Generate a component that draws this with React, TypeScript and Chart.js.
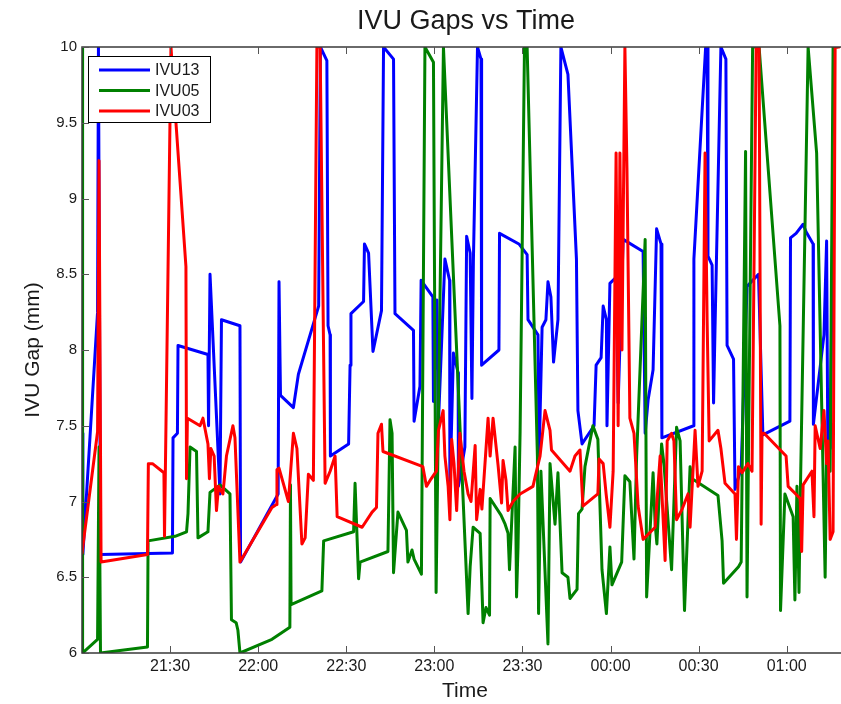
import React, { useEffect, useRef } from 'react';
import { Chart, registerables } from 'chart.js';

Chart.register(...registerables);

// Sample times are minutes after 21:00; gaps are in millimetres.
const ivu13Time = [
  0.0, 0.3, 5.3, 5.6, 6.3, 30.8, 31.0, 32.5, 32.7, 42.9,
  43.1, 43.6, 47.0, 47.5, 53.8, 54.0, 66.8, 67.1, 67.6, 72.0,
  73.7, 80.6, 81.2, 83.4, 83.8, 84.5, 84.6, 90.8, 91.3, 91.6,
  95.9, 96.2, 97.6, 99.1, 102.0, 102.7, 106.1, 106.6, 112.9, 113.1,
  115.1, 115.5, 119.5, 119.7, 120.9, 121.3, 123.6, 125.2, 125.3, 126.5,
  128.1, 128.2, 130.4, 131.0, 132.2, 132.8, 133.3, 134.7, 135.9, 136.1,
  142.0, 142.2, 148.8, 151.6, 151.9, 155.3, 155.7, 156.7, 158.0, 158.7,
  159.7, 160.6, 162.1, 163.1, 165.5, 168.4, 168.9, 170.3, 174.4, 175.1,
  176.8, 177.5, 178.6, 178.8, 179.8, 181.9, 182.6, 184.3, 191.1, 191.8,
  192.8, 194.5, 195.7, 197.2, 197.5, 208.3, 208.4, 212.4, 212.9, 213.2,
  214.6, 215.1, 215.6, 217.6, 219.3, 219.7, 221.9, 222.4, 224.5, 226.5,
  230.4, 231.9, 241.1, 241.3, 243.2, 245.6, 246.6, 249.0, 249.1, 252.7,
  253.6, 254.0, 254.8, 255.6,
];
const ivu13Gap = [
  7.45, 6.65, 8.25, 10, 6.65, 6.66, 7.42, 7.45, 8.03, 7.97,
  7.5, 8.5, 7.05, 8.2, 8.16, 6.6, 7.05, 8.45, 7.7, 7.62,
  7.84, 8.29, 10, 9.91, 8.16, 8.1, 7.3, 7.38, 7.9, 8.24,
  8.32, 8.7, 8.64, 7.99, 8.26, 10, 9.92, 8.24, 8.13, 7.53,
  7.76, 8.46, 8.35, 7.66, 8.33, 7.47, 8.6, 8.46, 7.07, 7.98,
  7.85, 7.1, 7.36, 8.75, 8.64, 7.68, 8.59, 10, 9.92, 7.9,
  8.0, 8.77, 8.7, 8.63, 8.2, 8.1, 7.3, 8.15, 8.2, 8.45,
  8.35, 7.92, 8.2, 10, 9.82, 8.6, 7.6, 7.38, 7.5, 7.9,
  7.95, 8.29, 8.2, 7.5, 8.44, 8.48, 7.65, 8.73, 8.65, 7.45,
  7.67, 7.87, 8.8, 8.7, 7.42, 7.5, 8.6, 10, 10, 8.62,
  8.56, 7.65, 8.15, 10, 9.92, 8.03, 7.94, 7.08, 7.22, 8.42,
  8.5, 7.44, 7.53, 8.74, 8.77, 8.83, 8.78, 8.7, 7.51, 8.1,
  8.72, 7.4, 7.35, 8.7,
];

const ivu05Time = [
  0.0, 0.2, 5.3, 5.8, 6.3, 22.3, 22.5, 31.7, 35.6, 36.1,
  36.8, 39.0, 39.5, 42.9, 43.6, 47.0, 50.4, 50.9, 52.5, 53.1,
  53.8, 64.7, 70.8, 71.0, 71.2, 81.7, 82.3, 92.5, 93.0, 94.2,
  94.7, 104.2, 104.9, 105.6, 106.1, 107.6, 110.5, 111.0, 112.4, 113.1,
  115.6, 116.8, 119.7, 120.6, 121.3, 123.1, 131.5, 132.2, 133.2, 135.6,
  136.6, 137.6, 138.8, 139.0, 142.7, 144.1, 145.1, 145.6, 147.5, 148.0,
  148.5, 149.2, 150.7, 151.6, 155.1, 155.5, 156.3, 158.7, 159.4, 161.1,
  162.1, 163.5, 165.5, 166.2, 168.6, 169.1, 170.3, 171.3, 174.0, 175.7,
  177.1, 178.6, 179.8, 180.5, 183.8, 184.9, 186.6, 188.0, 188.9, 191.8,
  192.3, 194.5, 195.2, 195.8, 197.4, 198.2, 200.8, 202.5, 203.7, 205.2,
  207.1, 207.8, 216.6, 218.0, 218.5, 223.6, 224.5, 226.0, 226.5, 228.4,
  230.6, 237.7, 237.9, 239.4, 242.2, 242.8, 243.5, 244.2, 244.7, 247.3,
  250.2, 253.1, 253.6, 254.8, 255.8, 257.2,
];
const ivu05Gap = [
  10, 6.0, 6.09, 7.36, 6.0, 6.04, 6.74, 6.77, 6.8, 6.92,
  7.36, 7.33, 6.76, 6.8, 7.06, 7.11, 7.05, 6.22, 6.2, 6.15,
  6.0, 6.09, 6.17, 7.11, 6.32, 6.41, 6.74, 6.8, 7.12, 6.49,
  6.6, 6.67, 7.54, 7.45, 6.53, 6.93, 6.81, 6.6, 6.68, 6.62,
  6.52, 10, 9.9, 6.4, 7.45, 10, 6.26, 6.57, 6.83, 6.79,
  6.2, 6.3, 6.25, 7.02, 6.91, 6.85, 6.79, 6.55, 7.36, 6.37,
  6.7, 7.45, 10, 10, 7.3, 6.26, 7.2, 6.06, 7.25, 6.85,
  7.19, 6.53, 6.5, 6.36, 6.42, 6.92, 6.95, 7.23, 7.5, 7.41,
  6.55, 6.26, 6.7, 6.45, 6.6, 7.17, 7.13, 6.62, 7.3, 8.73,
  6.37, 7.19, 6.85, 6.72, 7.38, 7.25, 6.55, 7.49, 7.4, 6.28,
  7.23, 7.15, 7.04, 6.74, 6.46, 6.57, 6.6, 9.31, 6.37, 10,
  10, 8.16, 6.28, 7.05, 6.9, 6.35, 7.1, 6.4, 7.1, 10,
  9.3, 6.5, 7.3, 7.2, 10, 10,
];

const ivu03Time = [
  0.0, 5.3, 5.8, 6.5, 22.3, 22.6, 24.0, 27.9, 28.1, 30.3,
  32.0, 35.4, 35.6, 35.9, 40.2, 41.2, 42.9, 43.4, 43.9, 45.0,
  45.8, 46.5, 48.0, 49.2, 51.4, 52.1, 53.8, 64.7, 66.2, 66.4,
  67.1, 70.3, 72.0, 73.2, 74.9, 76.0, 77.1, 78.8, 80.0, 81.1,
  82.8, 84.5, 86.2, 86.9, 95.4, 98.8, 100.3, 100.8, 102.0, 102.5,
  116.1, 117.3, 118.9, 120.7, 121.4, 123.0, 123.6, 124.7, 125.3, 125.9,
  126.7, 127.6, 128.7, 130.1, 131.5, 132.5, 133.9, 134.4, 135.6, 136.2,
  138.3, 139.0, 140.0, 141.7, 142.9, 143.4, 144.4, 145.1, 146.8, 149.2,
  153.6, 154.3, 156.0, 157.7, 159.4, 159.9, 166.2, 167.9, 169.6, 170.6,
  175.7, 176.1, 177.5, 178.5, 179.8, 180.9, 181.9, 182.6, 183.2, 183.9,
  184.9, 185.6, 186.6, 188.0, 189.4, 191.1, 195.2, 196.9, 198.6, 199.3,
  200.8, 201.6, 202.5, 204.4, 206.4, 207.1, 208.8, 209.8, 211.2, 212.2,
  212.9, 213.6, 216.6, 217.6, 219.0, 222.4, 222.9, 223.6, 224.8, 226.8,
  228.2, 229.6, 230.6, 231.3, 231.6, 232.3, 239.8, 240.5, 244.6, 245.1,
  245.6, 248.6, 249.3, 249.7, 251.4, 252.7, 253.6, 254.1, 254.8, 255.8,
  256.5, 257.8,
];
const ivu03Gap = [
  6.66, 7.46, 9.25, 6.6, 6.65, 7.25, 7.25, 7.19, 6.77, 10,
  9.5, 8.55, 7.15, 7.55, 7.5, 7.55, 7.38, 7.15, 7.35, 7.3,
  6.94, 7.1, 7.05, 7.3, 7.5, 7.42, 6.6, 6.96, 6.98, 7.21,
  7.22, 7.0, 7.45, 7.35, 6.72, 6.76, 7.18, 7.14, 10, 10,
  7.12, 7.2, 7.3, 6.9, 6.83, 6.93, 6.96, 7.45, 7.51, 7.33,
  7.23, 7.1, 7.15, 7.2, 7.47, 7.6, 7.3, 7.1, 6.88, 7.41,
  7.25, 6.94, 7.45, 7.2, 7.05, 7.0, 7.37, 6.88, 7.08, 6.95,
  7.55, 7.3, 7.55, 7.24, 6.99, 7.27, 7.14, 6.94, 7.0, 7.05,
  7.1, 7.16, 7.3, 7.6, 7.47, 7.34, 7.2, 7.3, 7.34, 6.97,
  7.05, 7.28, 7.25, 7.05, 6.83, 7.2, 9.3, 7.5, 9.3, 8.0,
  10, 9.2, 7.55, 7.45, 6.97, 6.75, 6.83, 7.3, 6.61, 7.4,
  7.45, 7.4, 6.88, 6.95, 7.05, 6.83, 7.47, 7.1, 7.2, 9.3,
  8.2, 7.4, 7.47, 7.35, 7.12, 7.05, 6.75, 7.23, 7.19, 7.25,
  7.2, 10, 10, 6.85, 7.45, 7.45, 7.3, 7.1, 7.02, 6.67,
  7.11, 7.2, 6.9, 7.5, 7.35, 7.6, 7.25, 7.4, 6.75, 6.8,
  10, 10,
];

const timeTicks = [30, 60, 90, 120, 150, 180, 210, 240];
const timeTickLabels = ['21:30', '22:00', '22:30', '23:00', '23:30', '00:00', '00:30', '01:00'];
const gapTicks = [6, 6.5, 7, 7.5, 8, 8.5, 9, 9.5, 10];
const gapTickLabels = ['6', '6.5', '7', '7.5', '8', '8.5', '9', '9.5', '10'];

const seriesNames = ['IVU13', 'IVU05', 'IVU03'];
const seriesColors = ['#0000ff', '#008000', '#ff0000'];
const seriesTimes = [ivu13Time, ivu05Time, ivu03Time];
const seriesGaps = [ivu13Gap, ivu05Gap, ivu03Gap];

const chartTitle = 'IVU Gaps vs Time';
const xTitle = 'Time';
const yTitle = 'IVU Gap (mm)';

const FONT = '"Liberation Sans", Arial, Helvetica, sans-serif';
const WIDTH = 841;
const HEIGHT = 704;
const AREA_LEFT = 82;
const AREA_TOP = 47;
const AREA_BOTTOM = 653;
const TIME_MAX = 258.5;
const TEXT = '#1a1a1a';

// Box frame, inward tick marks, axis titles and the boxed legend.
const framePlugin = {
  id: 'axesFrame',
  afterDatasetsDraw(chart: any) {
    const { ctx, chartArea: a, scales } = chart;
    const x = scales.x;
    const y = scales.y;
    ctx.save();
    ctx.strokeStyle = '#3a3a3a';
    ctx.lineWidth = 1.5;
    ctx.beginPath();
    ctx.moveTo(a.right + 2, a.top);
    ctx.lineTo(a.left, a.top);
    ctx.lineTo(a.left, a.bottom);
    ctx.lineTo(a.right + 2, a.bottom);
    ctx.stroke();

    ctx.strokeStyle = '#555';
    ctx.lineWidth = 1;
    ctx.beginPath();
    timeTicks.forEach((t) => {
      const px = Math.round(x.getPixelForValue(t)) + 0.5;
      ctx.moveTo(px, a.bottom);
      ctx.lineTo(px, a.bottom - 7);
      ctx.moveTo(px, a.top);
      ctx.lineTo(px, a.top + 7);
    });
    gapTicks.forEach((g) => {
      const py = Math.round(y.getPixelForValue(g)) + 0.5;
      ctx.moveTo(a.left, py);
      ctx.lineTo(a.left + 7, py);
    });
    ctx.stroke();
    ctx.restore();
  },
  afterDraw(chart: any) {
    const { ctx } = chart;
    ctx.save();
    ctx.fillStyle = TEXT;
    ctx.textAlign = 'center';
    ctx.textBaseline = 'middle';

    ctx.font = `27px ${FONT}`;
    ctx.fillText(chartTitle, 466, 22);

    ctx.font = `21px ${FONT}`;
    ctx.fillText(xTitle, 465, 691);

    ctx.save();
    ctx.translate(33, 350);
    ctx.rotate(-Math.PI / 2);
    ctx.fillText(yTitle, 0, 0);
    ctx.restore();

    // legend
    const bx = 88.5;
    const by = 56.5;
    const bw = 122;
    const bh = 66;
    ctx.fillStyle = '#ffffff';
    ctx.fillRect(bx, by, bw, bh);
    ctx.strokeStyle = '#000';
    ctx.lineWidth = 1;
    ctx.strokeRect(bx, by, bw, bh);
    ctx.font = `16px ${FONT}`;
    ctx.textAlign = 'left';
    seriesNames.forEach((name, i) => {
      const ly = 70 + i * 20.5;
      ctx.strokeStyle = seriesColors[i];
      ctx.lineWidth = 3;
      ctx.beginPath();
      ctx.moveTo(99, ly);
      ctx.lineTo(150, ly);
      ctx.stroke();
      ctx.fillStyle = TEXT;
      ctx.fillText(name, 155, ly + 1);
    });
    ctx.restore();
  },
};

export default function App() {
  const canvasRef = useRef<HTMLCanvasElement>(null);

  useEffect(() => {
    const canvas = canvasRef.current;
    if (!canvas) return;
    const datasets = seriesNames.map((name, i) => ({
      label: name,
      data: seriesTimes[i].map((t, j) => ({ x: t, y: seriesGaps[i][j] })),
      borderColor: seriesColors[i],
      backgroundColor: seriesColors[i],
      borderWidth: 3,
      pointRadius: 0,
      tension: 0,
      fill: false,
      borderJoinStyle: 'round' as const,
      borderCapStyle: 'round' as const,
      order: seriesNames.length - 1 - i,
    }));

    const chart = new Chart(canvas, {
      type: 'line',
      data: { datasets },
      options: {
        responsive: false,
        animation: false,
        devicePixelRatio: 1,
        layout: { padding: { top: AREA_TOP, right: 0, bottom: 0, left: 0 } },
        plugins: {
          legend: { display: false },
          tooltip: { enabled: false },
          title: { display: false },
        },
        scales: {
          x: {
            type: 'linear',
            min: 0,
            max: TIME_MAX,
            afterFit: (s: any) => {
              s.height = HEIGHT - AREA_BOTTOM;
            },
            afterBuildTicks: (s: any) => {
              s.ticks = timeTicks.map((value) => ({ value }));
            },
            grid: { display: false, drawTicks: false },
            border: { display: false },
            ticks: {
              autoSkip: false,
              maxRotation: 0,
              padding: 4,
              color: TEXT,
              font: { family: FONT, size: 16 },
              callback: (_v: any, i: number) => timeTickLabels[i],
            },
          },
          y: {
            type: 'linear',
            min: 6,
            max: 10,
            afterFit: (s: any) => {
              s.width = AREA_LEFT;
            },
            afterBuildTicks: (s: any) => {
              s.ticks = gapTicks.map((value) => ({ value }));
            },
            grid: { display: false, drawTicks: false },
            border: { display: false },
            ticks: {
              autoSkip: false,
              padding: 5,
              color: TEXT,
              font: { family: FONT, size: 15 },
              callback: (_v: any, i: number) => gapTickLabels[i],
            },
          },
        },
      },
      plugins: [framePlugin],
    });

    return () => chart.destroy();
  }, []);

  return (
    <div
      style={{
        position: 'fixed',
        left: 0,
        top: 0,
        width: WIDTH,
        height: HEIGHT,
        background: '#ffffff',
        overflow: 'hidden',
      }}
    >
      <canvas ref={canvasRef} width={WIDTH} height={HEIGHT} style={{ width: WIDTH, height: HEIGHT }} />
    </div>
  );
}
